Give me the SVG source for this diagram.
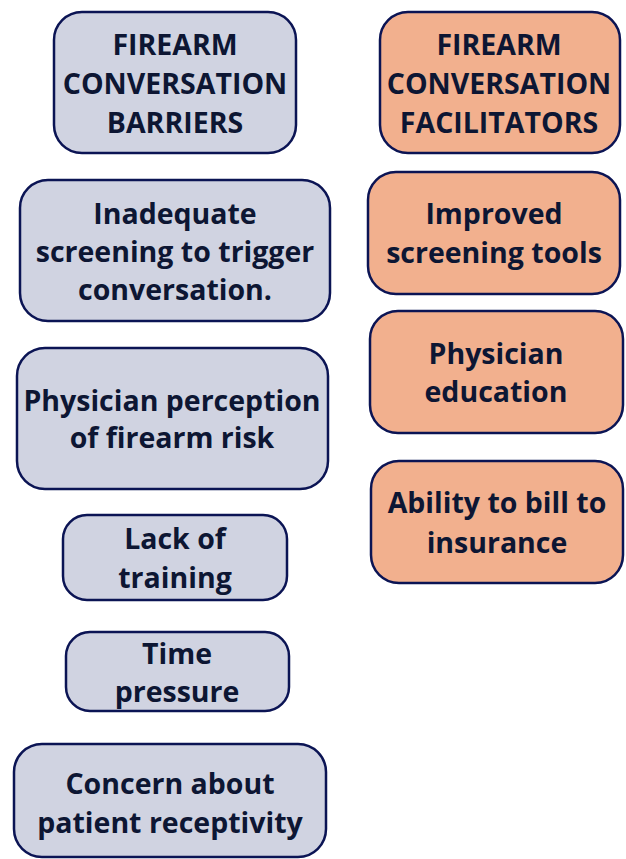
<svg xmlns="http://www.w3.org/2000/svg" width="626" height="859" viewBox="0 0 626 859">
  <style>
    .box { stroke: #0b1454; stroke-width: 2.5; }
    .bar { fill: #d0d3e1; }
    .fac { fill: #f2b08e; }
    text { font-family: "Open Sans", "Liberation Sans", sans-serif; font-weight: 700; font-size: 28.5px; fill: #0d1633; text-anchor: middle; }
  </style>
  <rect width="626" height="859" fill="#ffffff"/>

  <g id="barriers-header">
    <rect class="box bar" x="54" y="12" width="242" height="141" rx="28"/>
    <text x="175" y="55">FIREARM</text>
    <text x="175" y="94">CONVERSATION</text>
    <text x="175" y="133">BARRIERS</text>
  </g>
  <g id="facilitators-header">
    <rect class="box fac" x="380" y="12" width="240" height="141" rx="28"/>
    <text x="499" y="55">FIREARM</text>
    <text x="499" y="94">CONVERSATION</text>
    <text x="499" y="133">FACILITATORS</text>
  </g>

  <g id="inadequate-screening">
    <rect class="box bar" x="20" y="180" width="310" height="141" rx="28"/>
    <text x="175" y="224">Inadequate</text>
    <text x="175" y="262">screening to trigger</text>
    <text x="175" y="300">conversation.</text>
  </g>
  <g id="improved-screening">
    <rect class="box fac" x="368" y="172" width="252" height="122" rx="28"/>
    <text x="494" y="224">Improved</text>
    <text x="494" y="263">screening tools</text>
  </g>

  <g id="physician-perception">
    <rect class="box bar" x="17" y="348" width="311" height="141" rx="28"/>
    <text x="172" y="411">Physician perception</text>
    <text x="172" y="448">of firearm risk</text>
  </g>
  <g id="physician-education">
    <rect class="box fac" x="370" y="311" width="253" height="122" rx="28"/>
    <text x="496" y="364">Physician</text>
    <text x="496" y="402">education</text>
  </g>

  <g id="billing">
    <rect class="box fac" x="371" y="461" width="252" height="122" rx="28"/>
    <text x="497" y="513">Ability to bill to</text>
    <text x="497" y="553">insurance</text>
  </g>

  <g id="lack-of-training">
    <rect class="box bar" x="63" y="515" width="224" height="85" rx="24"/>
    <text x="175" y="549">Lack of</text>
    <text x="175" y="588">training</text>
  </g>

  <g id="time-pressure">
    <rect class="box bar" x="66" y="632" width="223" height="79" rx="24"/>
    <text x="177" y="664">Time</text>
    <text x="177" y="702">pressure</text>
  </g>

  <g id="patient-receptivity">
    <rect class="box bar" x="14" y="744" width="312" height="113" rx="28"/>
    <text x="170" y="794">Concern about</text>
    <text x="170" y="833">patient receptivity</text>
  </g>

  <g id="connectors"></g>
</svg>
